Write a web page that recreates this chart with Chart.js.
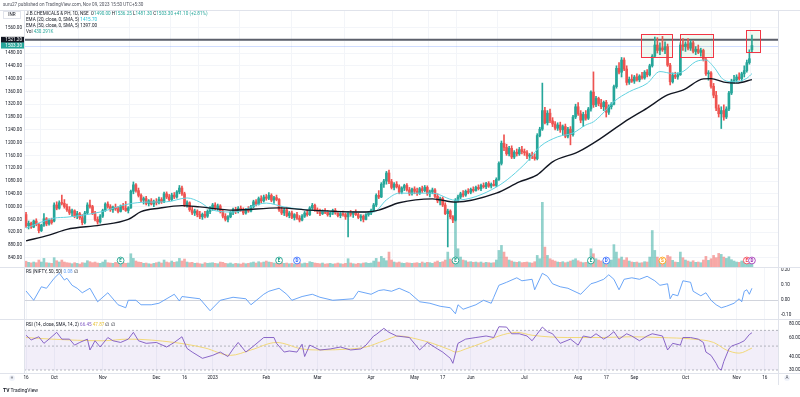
<!DOCTYPE html>
<html>
<head>
<meta charset="utf-8">
<script src="https://cdn.jsdelivr.net/npm/chart.js@4.4.1/dist/chart.umd.min.js"></script>
<style>
  body { margin: 0; background: #fff; font-family: Roboto, "Liberation Sans", sans-serif; }
  #wrap { position: relative; width: 800px; height: 397px; overflow: hidden; background: #fff; }
  canvas { position: absolute; left: 0; }
  .t { position: absolute; font-size: 4.6px; color: #131722; white-space: nowrap; line-height: 1; }
  .g { color: #26a69a; }
  .line { position: absolute; background: #e0e3eb; }
</style>
</head>
<body>
<div id="wrap">
  <canvas id="main" width="800" height="257" style="top:10px"></canvas>
  <canvas id="rs" width="800" height="52" style="top:267px"></canvas>
  <canvas id="rsi" width="800" height="66" style="top:319px"></canvas>

  <div class="line" style="left:0;top:10px;width:800px;height:1px"></div>
  <div class="line" style="left:0;top:267px;width:800px;height:1px"></div>
  <div class="line" style="left:0;top:319px;width:800px;height:1px"></div>
  <div class="line" style="left:0;top:373px;width:800px;height:1px"></div>
  <div class="line" style="left:24px;top:10px;width:1px;height:363px"></div>
  <div class="line" style="left:778px;top:10px;width:1px;height:375px"></div>

  <div class="t" style="left:3px;top:3px;color:#50535e">suru27 published on TradingView.com, Nov 09, 2023 15:50 UTC+5:30</div>
  <div class="t" style="left:3px;top:11px;width:16px;height:6px;border:1px solid #e0e3eb;background:#fff;text-align:center;line-height:6px">INR</div>
  <div class="t" style="left:26px;top:12px">J.B.CHEMICALS &amp; PH, 1D, NSE&nbsp; O<span class="g">1490.00</span> H<span class="g">1536.25</span> L<span class="g">1481.30</span> C<span class="g">1503.30</span> <span class="g">+41.10 (+2.81%)</span></div>
  <div class="t" style="left:26px;top:18px">EMA (20, close, 0, SMA, 5) <span style="color:#26c6da">1415.70</span></div>
  <div class="t" style="left:26px;top:23.5px">EMA (50, close, 0, SMA, 5) <span>1397.00</span></div>
  <div class="t" style="left:26px;top:30px">Vol <span class="g">430.291K</span></div>

  <div class="t" style="left:26px;top:269.5px">RS (NIFTY, 50, 50) <span style="color:#5b9cf6">0.08</span> &#8709;</div>
  <div class="t" style="left:26px;top:322.5px">RSI (14, close, SMA, 14, 2) <span style="color:#7e57c2">66.45</span> <span style="color:#e8c33a">47.87</span> &#8709; &#8709;</div>

  <div class="t" style="left:9px;top:374.5px;width:6px;height:6px;border-radius:50%;background:#f0f3fa;text-align:center;line-height:6px;color:#50535e">&#8801;</div>
  <div class="t" style="left:784px;top:374.5px;width:6px;height:6px;border-radius:50%;background:#f0f3fa;text-align:center;line-height:6px;color:#50535e">A</div>
  <div class="t" style="left:3px;top:388px;font-size:5px;color:#131722"><b>TV</b> TradingView</div>
</div>
<script>
// time axis labels (candle index -> label)
const tickIdx = [0, 11, 30, 51, 62, 73, 94, 114, 135, 152, 163, 174, 195, 216, 227, 238, 258, 278, 289];
const tickLbl = ['16', 'Oct', 'Nov', 'Dec', '16', '2023', 'Feb', 'Mar', 'Apr', 'May', '17', 'Jun', 'Jul', 'Aug', '17', 'Sep', 'Oct', 'Nov', '16'];
const priceTicks = [840, 880, 920, 960, 1000, 1040, 1080, 1120, 1160, 1200, 1240, 1280, 1320, 1360, 1400, 1440, 1480, 1520, 1560];
const rsTicks = [-0.1, 0, 0.1, 0.2];
const rsiTicks = [30, 40, 60, 80];

// daily candles, 16 Sep 2022 .. 09 Nov 2023
const opens = [
  975,940,948,936,955,944,925,942,962,946,958,
  955,1005,995,1012,1010,1000,990,980,987,970,978,965,950,980,1005,1000,978,960,952,
  970,988,1008,1000,990,998,993,985,1002,995,988,996,1048,1068,1050,1035,1020,1025,1010,1018,1008,
  1015,1012,1022,1015,1040,1030,1022,1036,1030,1046,1058,1040,1005,1012,990,980,986,975,968,976,970,985,
  995,1005,994,1002,984,970,960,968,982,990,984,995,990,980,992,986,1000,1015,1008,1025,1018,
  1030,1026,1035,1020,1028,1022,990,980,990,972,980,966,975,964,958,970,980,975,996,1004,
  990,985,978,986,982,975,980,988,980,972,978,975,968,980,976,982,975,966,970,960,975,
  980,988,1005,1035,1030,1070,1080,1105,1078,1060,1070,1062,1045,1058,1066,1052,1040,
  1055,1048,1042,1056,1050,1060,1040,1046,1052,1032,1018,1025,1005,978,986,968,958,1020,1030,1040,1036,1048,
  1045,1054,1050,1060,1056,1066,1062,1072,1064,1070,1066,1085,1135,1198,1185,1165,1182,1155,1170,1165,1178,
  1172,1168,1158,1160,1155,1150,1222,1242,1300,1262,1292,1268,1258,1245,1255,1240,1250,1220,1242,1225,1280,
  1312,1290,1270,1288,1276,1305,1358,1318,1338,1322,1312,1326,1295,1312,1320,1375,1432,1420,1458,1430,1388,1398,
  1392,1405,1396,1408,1402,1420,1412,1440,1470,1505,1488,1496,1490,1500,1442,1390,1410,1405,1412,1505,
  1500,1508,1495,1512,1485,1492,1482,1488,1460,1415,1418,1376,1348,1308,1290,1300,1280,1305,1355,1392,
  1396,1405,1400,1415,1425,1450,1490
];
const highs = [
  982,955,952,958,962,948,945,978,966,962,964,
  1012,1015,1018,1036,1022,1008,1000,992,990,985,982,975,985,1012,1020,1004,985,968,975,
  992,1012,1015,1006,1002,1008,1000,1005,1010,1016,1000,1052,1077,1072,1058,1040,1030,1032,1022,1025,1020,
  1025,1030,1028,1045,1046,1038,1042,1044,1050,1066,1064,1045,1018,1015,998,992,990,985,980,985,990,1000,
  1010,1012,1008,1006,990,978,972,985,995,998,1000,1002,996,994,1000,1004,1020,1022,1030,1034,1036,
  1038,1044,1040,1032,1036,1025,1000,995,998,985,986,978,982,972,975,985,990,1000,1010,1008,
  996,992,990,994,988,986,992,994,985,982,986,980,985,988,984,990,980,975,974,978,985,
  992,1010,1040,1050,1075,1085,1110,1114,1085,1075,1078,1068,1062,1070,1072,1060,1058,
  1062,1058,1060,1064,1066,1065,1052,1058,1056,1040,1030,1030,1012,992,990,972,1025,1036,1045,1050,1052,1056,
  1058,1062,1064,1068,1070,1074,1076,1078,1074,1082,1090,1140,1205,1224,1195,1188,1190,1175,1180,1185,1188,
  1180,1175,1166,1170,1165,1228,1248,1386,1310,1300,1305,1278,1266,1262,1264,1255,1258,1248,1250,1285,1320,
  1325,1300,1295,1300,1310,1362,1421,1345,1342,1335,1330,1332,1318,1325,1380,1440,1450,1466,1465,1440,1405,1412,
  1410,1415,1412,1420,1425,1428,1445,1475,1530,1528,1512,1532,1515,1508,1448,1418,1420,1418,1512,1525,
  1515,1525,1520,1518,1500,1505,1495,1492,1465,1425,1422,1385,1360,1318,1312,1318,1312,1360,1398,1410,
  1412,1418,1420,1440,1458,1490,1536.25
];
const lows = [
  935,930,932,934,940,918,922,938,940,942,945,
  952,990,992,1005,995,985,975,972,965,962,960,943,946,976,995,975,955,945,948,
  966,985,995,985,982,988,980,983,990,985,980,994,1040,1045,1030,1015,1008,1005,1002,1005,1000,
  1005,1008,1010,1012,1025,1018,1018,1025,1026,1040,1035,1000,998,985,975,972,968,962,960,965,966,978,
  988,990,988,980,965,955,952,965,975,978,980,985,975,976,982,983,996,1002,1005,1012,1014,
  1020,1022,1015,1010,1018,985,975,972,968,965,962,958,960,952,955,966,970,972,990,985,
  978,972,975,978,970,968,975,976,968,965,970,960,905,970,966,972,962,955,952,958,970,
  975,985,1000,1025,1028,1060,1070,1072,1055,1052,1058,1040,1040,1050,1048,1035,1036,
  1040,1035,1038,1044,1046,1035,1030,1040,1028,1012,1005,1000,975,874,962,950,955,1015,1025,1030,1032,1040,
  1040,1045,1048,1052,1050,1058,1056,1060,1058,1064,1062,1082,1130,1175,1160,1158,1150,1150,1158,1160,1165,
  1160,1150,1145,1150,1145,1146,1218,1238,1258,1255,1262,1250,1240,1238,1232,1225,1215,1215,1193,1220,1275,
  1285,1262,1250,1270,1272,1298,1310,1312,1315,1306,1300,1280,1288,1305,1318,1370,1415,1405,1425,1380,1382,1388,
  1385,1392,1390,1398,1398,1405,1408,1436,1466,1480,1475,1485,1478,1438,1380,1386,1400,1398,1410,1488,
  1485,1490,1488,1480,1475,1478,1470,1455,1410,1395,1370,1340,1300,1280,1244,1270,1275,1300,1350,1385,
  1388,1395,1392,1405,1420,1445,1481.3
];
const closes = [
  940,948,936,955,944,925,942,962,946,958,950,
  1005,995,1012,1010,1000,990,980,987,970,978,965,950,980,1005,1000,978,960,952,970,
  988,1008,1000,990,998,993,985,1002,995,988,996,1048,1068,1050,1035,1020,1025,1010,1018,1008,1015,
  1012,1022,1015,1040,1030,1022,1036,1030,1046,1058,1040,1005,1012,990,980,986,975,968,976,970,985,995,
  1005,994,1002,984,970,960,968,982,990,984,995,990,980,992,986,1000,1015,1008,1025,1018,1030,
  1026,1035,1020,1028,1022,990,980,990,972,980,966,975,964,958,970,980,975,996,1004,990,
  985,978,986,982,975,980,988,980,972,978,975,968,980,976,982,975,966,970,960,975,980,
  988,1005,1035,1030,1070,1080,1105,1078,1060,1070,1062,1045,1058,1066,1052,1040,1055,
  1048,1042,1056,1050,1060,1040,1046,1052,1032,1018,1025,1005,978,986,968,958,1020,1030,1040,1036,1048,1045,
  1054,1050,1060,1056,1066,1062,1072,1064,1070,1066,1085,1135,1198,1185,1165,1182,1155,1170,1165,1178,1172,
  1168,1158,1160,1155,1150,1222,1242,1300,1262,1292,1268,1258,1245,1255,1240,1250,1220,1242,1225,1280,1312,
  1290,1270,1288,1276,1305,1358,1318,1338,1322,1312,1326,1295,1312,1320,1375,1432,1420,1458,1430,1388,1398,1392,
  1405,1396,1408,1402,1420,1412,1440,1470,1505,1488,1496,1490,1500,1442,1390,1410,1405,1412,1505,1500,
  1508,1495,1512,1485,1492,1482,1488,1460,1415,1418,1376,1348,1308,1290,1300,1280,1305,1355,1392,1396,
  1405,1400,1415,1425,1450,1462.2,1503.3
];
// volume in thousands of shares
const volumes = [
  350,280,250,300,260,420,300,520,260,240,220,
  560,380,300,420,300,260,240,200,260,220,180,260,240,380,320,260,300,240,220,
  300,420,260,240,220,280,240,300,260,220,240,800,520,360,300,280,220,240,200,180,220,
  260,300,240,420,300,260,360,280,320,520,360,480,300,260,280,220,240,200,180,260,220,240,
  260,220,200,300,280,220,200,240,180,220,200,180,240,200,220,260,300,240,320,260,300,
  360,300,280,240,220,420,260,220,240,200,220,180,200,260,200,240,220,320,280,240,
  220,200,240,180,200,220,180,200,240,200,180,220,500,240,200,180,220,200,240,260,220,
  240,360,520,300,640,520,380,900,420,300,260,300,240,220,260,240,220,
  240,260,220,300,240,280,260,220,300,360,280,320,420,900,480,360,3400,1100,600,420,380,300,
  320,280,300,260,300,240,280,260,240,260,420,1000,1300,900,600,420,360,300,280,320,260,
  280,300,260,240,320,700,500,3900,1200,700,500,420,360,300,280,320,260,300,360,420,500,
  380,300,260,280,360,1100,800,500,420,360,300,380,300,420,1350,900,500,600,420,560,360,300,
  280,300,240,260,320,300,600,2200,1000,600,420,500,380,700,620,400,300,280,900,560,
  420,360,300,380,280,300,260,420,640,400,500,700,560,820,760,600,520,620,440,360,
  300,280,360,320,560,520,430.291
];

// indicator lines (candle index, value)
const ema20X = [0, 11, 16, 29, 40, 47, 55, 63, 68, 73, 81, 94, 101, 111, 126, 136, 141, 146, 159, 168, 184, 196, 201, 208, 214, 219, 222, 225, 230, 236, 243, 248, 253, 257, 262, 266, 269, 273, 277, 282, 284];
const ema20Y = [933, 964, 967, 983, 1008, 1014, 1015, 1027, 1014, 989, 983, 1011, 999, 989, 983, 983, 1021, 1042, 1042, 1020, 1061, 1140, 1187, 1218, 1230, 1255, 1265, 1286, 1328, 1359, 1385, 1422, 1416, 1422, 1453, 1458, 1437, 1396, 1390, 1401, 1415.7];
const ema50X = [0, 9, 16, 29, 40, 45, 52, 61, 68, 81, 99, 111, 133, 138, 146, 159, 168, 184, 193, 200, 206, 216, 225, 234, 243, 251, 257, 265, 268, 273, 278, 284];
const ema50Y = [893, 911, 929, 942, 960, 984, 995, 1003, 999, 989, 996, 989, 983, 989, 1012, 1024, 1014, 1042, 1077, 1099, 1140, 1171, 1214, 1264, 1308, 1349, 1364, 1399, 1400, 1389, 1386, 1397];

const rsX = [0,3,6,8,11,13,15,16,18,20,22,25,28,32,36,39,40,43,45,49,52,58,60,61,68,72,76,81,86,88,93,95,99,102,104,108,112,115,120,124,128,130,135,138,140,143,146,150,154,158,162,166,168,169,171,176,179,182,183,185,188,192,194,198,199,202,204,206,209,212,217,221,223,226,228,230,232,234,237,240,243,246,248,251,252,253,255,257,260,261,264,266,268,270,272,274,277,279,280,281,282,283,284];
const rsY = [0.062,0.0,0.09,0.08,0.147,0.18,0.135,0.147,0.10,0.08,0.05,0.08,-0.01,0.05,-0.03,-0.05,0.0,0.0,-0.03,-0.03,-0.02,0.04,-0.005,0.025,0.01,-0.07,0.0,0.02,0.01,-0.03,0.04,0.06,0.08,0.04,0.0,0.025,0.04,0.02,0.0,0.005,0.01,0.06,0.04,0.065,0.07,0.06,0.08,0.05,-0.01,-0.02,-0.04,-0.05,-0.09,-0.03,-0.06,-0.03,0.0,-0.02,0.02,0.10,0.12,0.15,0.13,0.14,0.07,0.18,0.16,0.11,0.09,0.08,0.04,0.11,0.12,0.14,0.17,0.14,0.07,0.14,0.15,0.14,0.16,0.13,0.10,0.11,0.01,0.04,0.03,0.13,0.12,0.06,0.03,0.05,0.0,-0.03,-0.05,-0.04,-0.02,0.01,-0.01,0.06,0.07,0.04,0.08];

const rsiX = [0,2,5,7,9,12,14,17,19,21,24,25,27,29,32,34,37,40,42,44,47,51,55,58,61,63,65,69,73,76,79,81,83,86,89,93,97,98,101,103,106,108,109,111,115,119,123,127,131,133,136,137,140,142,145,150,154,157,161,163,166,167,169,172,176,180,183,185,188,190,193,196,198,202,204,206,209,213,216,218,221,223,226,228,230,232,235,237,240,243,245,249,251,253,256,257,260,263,265,266,268,270,271,272,273,275,276,279,281,283,284];
const rsiY = [63,57,61,53,58,67,58,58,51,54,58,46,56,49,60,56,54,58,67,56,53,54,49,54,61,47.5,44,38.5,41,44,40,47,54,44,50,60,60,53,44,45,44,52,40,51,46,47,49,46,47,51,62,64,73,67,62,60,46,54,47,44,38.5,34.6,53,58,60,62,60,75.5,75,65,65,62,56,75,68,65,53,58,51,62,60,65,58,62,68,58,65,62,56,62,65,62,46,53,51,60,60,58,54,44,41,34.6,31,30,36,47,50,53,56,64,66.45];
const sigX = [0,10,30,40,58,70,80,88,98,108,115,127,133,140,146,153,159,166,168,172,179,185,192,198,212,225,237,248,261,269,274,279,284];
const sigY = [60,58,56,58,54,48,41,46,54,47,46,47,49,56,62,58,53,46,44,47,54,62,67,63,60,60,61,60,58,54,46,43,47.87];

// event markers on the volume strip
const markerIdx = [37, 99, 106, 168, 221, 227, 249, 282, 284];
const markerTxt = ['E', 'E', 'D', 'E', 'E', 'D', 'S', 'E', 'D'];
const markerCol = ['#089981', '#089981', '#2962ff', '#089981', '#089981', '#2962ff', '#ff9800', '#f23645', '#9c27b0'];

// drawings
const levelPrice = 1521.2;
const zones = [
  { from: 240.5, to: 252.8, lo: 1466, hi: 1539 },
  { from: 256, to: 269, lo: 1466, hi: 1539 },
  { from: 281.7, to: 287, lo: 1482, hi: 1552 }
];
const rsiUpper = 70, rsiMid = 50, rsiLower = 30;

const UP = '#26a69a';
const DOWN = '#ef5350';
const xMin = -0.8, xMax = 294.2;
const smallFont = { size: 4.6, family: 'Roboto, "Liberation Sans", sans-serif' };

function up(i) { return closes[i] >= opens[i]; }
function pts(xs, ys) { return xs.map((x, i) => ({ x: x, y: ys[i] })); }

function xScale(showTicks) {
  return {
    type: 'linear', min: xMin, max: xMax, offset: false,
    afterBuildTicks: s => { s.ticks = tickIdx.map(v => ({ value: v })); },
    ticks: {
      display: showTicks, autoSkip: false, maxRotation: 0, padding: 2,
      font: smallFont, color: '#131722',
      callback: (v, i) => tickLbl[i]
    },
    grid: { color: '#f3f5f9', drawTicks: false },
    border: { display: false },
    afterFit: s => { s.height = showTicks ? 12 : 0; }
  };
}

const baseOpts = {
  responsive: false,
  animation: false,
  events: [],
  plugins: { legend: { display: false }, tooltip: { enabled: false } }
};

const mainOverlay = {
  id: 'mainOverlay',
  beforeDatasetsDraw(chart) {
    const { ctx, chartArea: a, scales: { y } } = chart;
    ctx.save();
    const yl = Math.round(y.getPixelForValue(closes[closes.length - 1])) + 0.5;
    ctx.strokeStyle = 'rgba(41,98,255,0.22)';
    ctx.lineWidth = 1;
    ctx.beginPath(); ctx.moveTo(a.left, yl); ctx.lineTo(a.right, yl); ctx.stroke();
    const yv = y.getPixelForValue(levelPrice);
    ctx.strokeStyle = '#5d606b';
    ctx.lineWidth = 2;
    ctx.beginPath(); ctx.moveTo(a.left, yv); ctx.lineTo(a.right, yv); ctx.stroke();
    ctx.restore();
  },
  afterDatasetsDraw(chart) {
    const { ctx, chartArea: a, scales: { x, y } } = chart;
    ctx.save();
    zones.forEach(z => {
      const x0 = x.getPixelForValue(z.from), x1 = x.getPixelForValue(z.to);
      const y0 = y.getPixelForValue(z.hi), y1 = y.getPixelForValue(z.lo);
      ctx.fillStyle = 'rgba(76,175,80,0.08)';
      ctx.fillRect(x0, y0, x1 - x0, y1 - y0);
      ctx.strokeStyle = '#f23645';
      ctx.lineWidth = 1;
      ctx.strokeRect(Math.round(x0) + 0.5, Math.round(y0) + 0.5, Math.round(x1 - x0), Math.round(y1 - y0));
    });
    ctx.font = 'bold 4.5px Roboto, sans-serif';
    ctx.textAlign = 'center';
    ctx.textBaseline = 'middle';
    markerIdx.forEach((m, i) => {
      const px = x.getPixelForValue(m), py = a.bottom - 6.5;
      ctx.beginPath();
      ctx.arc(px, py, 3.4, 0, Math.PI * 2);
      ctx.fillStyle = '#fff';
      ctx.fill();
      ctx.strokeStyle = markerCol[i];
      ctx.lineWidth = 0.8;
      ctx.stroke();
      ctx.fillStyle = markerCol[i];
      ctx.fillText(markerTxt[i], px, py + 0.2);
    });
    ctx.restore();
  },
  afterDraw(chart) {
    const { ctx, scales: { y } } = chart;
    ctx.save();
    ctx.font = '4.6px Roboto, sans-serif';
    ctx.textAlign = 'right';
    ctx.textBaseline = 'middle';
    const tags = [
      { v: levelPrice, bg: '#131722' },
      { v: closes[closes.length - 1], bg: '#26a69a' }
    ];
    tags.forEach(t => {
      const py = y.getPixelForValue(t.v);
      ctx.fillStyle = t.bg;
      ctx.fillRect(1, py - 3, 23, 6);
      ctx.fillStyle = '#fff';
      ctx.fillText(t.v.toFixed(2), 22, py + 0.2);
    });
    ctx.restore();
  }
};

new Chart(document.getElementById('main'), {
  type: 'bar',
  data: {
    datasets: [
      { type: 'line', data: pts(ema50X, ema50Y), borderColor: '#131722', borderWidth: 1.4, pointRadius: 0, cubicInterpolationMode: 'monotone', order: 1 },
      { type: 'line', data: pts(ema20X, ema20Y), borderColor: '#62d2e0', borderWidth: 1, pointRadius: 0, cubicInterpolationMode: 'monotone', order: 2 },
      {
        data: opens.map((o, i) => ({ x: i, y: [Math.min(o, closes[i]), Math.max(o, closes[i])] })),
        backgroundColor: c => up(c.dataIndex) ? UP : DOWN,
        barThickness: 2, minBarLength: 1, grouped: false, order: 3
      },
      {
        data: lows.map((l, i) => ({ x: i, y: [l, highs[i]] })),
        backgroundColor: c => up(c.dataIndex) ? UP : DOWN,
        barThickness: 1, grouped: false, order: 4
      },
      {
        data: volumes.map((v, i) => ({ x: i, y: v })),
        yAxisID: 'yv',
        backgroundColor: c => up(c.dataIndex) ? 'rgba(38,166,154,0.5)' : 'rgba(239,83,80,0.5)',
        barThickness: 2, grouped: false, order: 5
      }
    ]
  },
  options: {
    ...baseOpts,
    layout: { padding: { left: 0, right: 22, top: 0, bottom: 0 } },
    scales: {
      x: xScale(false),
      y: {
        position: 'left', min: 811.25, max: 1614.4,
        afterBuildTicks: s => { s.ticks = priceTicks.map(v => ({ value: v })); },
        ticks: { font: smallFont, color: '#131722', padding: 2, callback: v => v.toFixed(2) },
        grid: { color: '#f3f5f9', drawTicks: false },
        border: { display: false },
        afterFit: s => { s.width = 24; s.paddingTop = 0; s.paddingBottom = 0; }
      },
      yv: { display: false, min: 0, max: 15500 }
    }
  },
  plugins: [mainOverlay]
});

new Chart(document.getElementById('rs'), {
  type: 'line',
  data: { datasets: [{ data: pts(rsX, rsY), borderColor: '#5b9cf6', borderWidth: 0.9, pointRadius: 0 }] },
  options: {
    ...baseOpts,
    layout: { padding: { left: 24, right: 0, top: 0, bottom: 0 } },
    scales: {
      x: xScale(false),
      y: {
        position: 'right', min: -0.125, max: 0.222,
        afterBuildTicks: s => { s.ticks = rsTicks.map(v => ({ value: v })); },
        ticks: { font: smallFont, color: '#131722', padding: 3, callback: v => v.toFixed(2) },
        grid: { color: c => c.tick && c.tick.value === 0 ? '#d1d4dc' : 'rgba(0,0,0,0)', drawTicks: false },
        border: { display: false },
        afterFit: s => { s.width = 22; s.paddingTop = 0; s.paddingBottom = 0; }
      }
    }
  }
});

const rsiBand = {
  id: 'rsiBand',
  beforeDatasetsDraw(chart) {
    const { ctx, chartArea: a, scales: { y } } = chart;
    const yTop = y.getPixelForValue(rsiUpper), yMid = y.getPixelForValue(rsiMid), yBot = y.getPixelForValue(rsiLower);
    ctx.save();
    ctx.fillStyle = 'rgba(126,87,194,0.1)';
    ctx.fillRect(a.left, yTop, a.right - a.left, yBot - yTop);
    ctx.strokeStyle = '#a3a6af';
    ctx.lineWidth = 0.8;
    ctx.setLineDash([2, 2]);
    [yTop, yMid, yBot].forEach(p => {
      ctx.beginPath(); ctx.moveTo(a.left, p); ctx.lineTo(a.right, p); ctx.stroke();
    });
    ctx.restore();
  }
};

new Chart(document.getElementById('rsi'), {
  type: 'line',
  data: {
    datasets: [
      { data: pts(rsiX, rsiY), borderColor: '#7e57c2', borderWidth: 0.9, pointRadius: 0, order: 1 },
      { data: pts(sigX, sigY), borderColor: '#f2d66b', borderWidth: 0.9, pointRadius: 0, cubicInterpolationMode: 'monotone', order: 2 }
    ]
  },
  options: {
    ...baseOpts,
    layout: { padding: { left: 24, right: 0, top: 0, bottom: 0 } },
    scales: {
      x: xScale(true),
      y: {
        type: 'logarithmic', position: 'right', min: 28.14, max: 89.1,
        afterBuildTicks: s => { s.ticks = rsiTicks.map(v => ({ value: v })); },
        ticks: { font: smallFont, color: '#131722', padding: 3, callback: v => Number(v).toFixed(2) },
        grid: { display: false },
        border: { display: false },
        afterFit: s => { s.width = 22; s.paddingTop = 0; s.paddingBottom = 0; }
      }
    }
  },
  plugins: [rsiBand]
});
</script>
</body>
</html>
